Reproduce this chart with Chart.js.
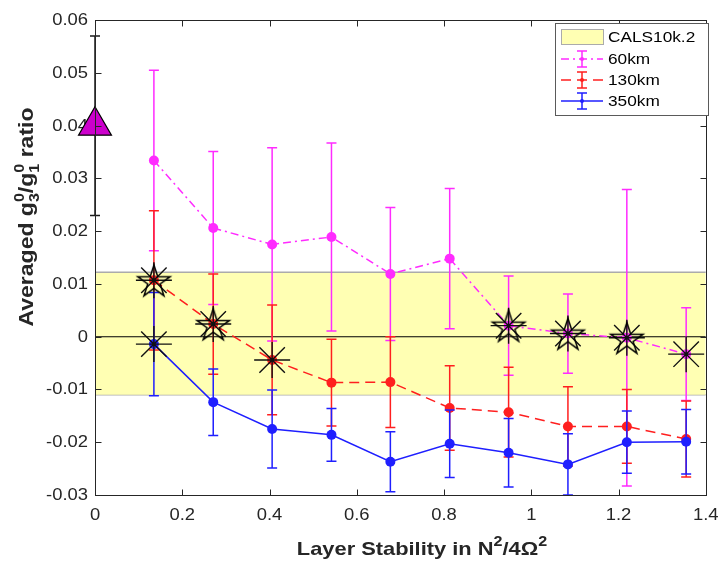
<!DOCTYPE html>
<html>
<head>
<meta charset="utf-8">
<script src="https://cdn.jsdelivr.net/npm/chart.js@4.4.1/dist/chart.umd.min.js"></script>
<style>
  html, body { margin: 0; padding: 0; background: #fff; }
  #wrap { width: 726px; height: 562px; }
</style>
</head>
<body>
<div id="wrap"><canvas id="c" width="726" height="562"></canvas></div>
<script>
// Layer stability (N^2/4Omega^2) of each model run
const stability = [0.135, 0.271, 0.406, 0.542, 0.677, 0.813, 0.948, 1.084, 1.219, 1.355];

// Averaged g3/g1 ratio and its spread, per layer thickness
const ratio60  = [0.0334, 0.0206, 0.0175, 0.0189, 0.0119, 0.0148, 0.0021, 0.0006, -0.0002, -0.0033];
const err60    = [0.0171, 0.0145, 0.0183, 0.0178, 0.0126, 0.0133, 0.0094, 0.0075, 0.0281, 0.0088];
const ratio130 = [0.0107, 0.0024, -0.0044, -0.0087, -0.0086, -0.0135, -0.0143, -0.0170, -0.0170, -0.0194];
const err130   = [0.0132, 0.0095, 0.0104, 0.0082, 0.0086, 0.0080, 0.0085, 0.0075, 0.0070, 0.0072];
const ratio350 = [-0.0014, -0.0124, -0.0175, -0.0186, -0.0237, -0.0203, -0.0220, -0.0242, -0.0200, -0.0199];
const err350   = [0.0098, 0.0063, 0.0074, 0.0050, 0.0057, 0.0064, 0.0065, 0.0058, 0.0059, 0.0061];

// CALS10k.2 reference value and its range
const calsStability = [0];
const calsRatio = [0.040];
const calsErr = [0.017];
const calsBand = [-0.0110, 0.0122];

// Runs flagged as consistent with CALS10k.2 (indices into the series)
const asterisk60 = [6, 7, 8, 9];
const asterisk130 = [0, 1, 2];
const asterisk350 = [0];
const pentagram60 = [6, 7, 8];
const pentagram130 = [0, 1];

// Axes
const xRange = [0, 1.4];
const yRange = [-0.03, 0.06];
const xTicks = [0, 0.2, 0.4, 0.6, 0.8, 1, 1.2, 1.4];
const xTickLabels = ['0', '0.2', '0.4', '0.6', '0.8', '1', '1.2', '1.4'];
const yTicks = [-0.03, -0.02, -0.01, 0, 0.01, 0.02, 0.03, 0.04, 0.05, 0.06];
const yTickLabels = ['-0.03', '-0.02', '-0.01', '0', '0.01', '0.02', '0.03', '0.04', '0.05', '0.06'];

const seriesNames = ['CALS10k.2', '60km', '130km', '350km'];

const MAGENTA = '#FF2BFF';
const RED = '#FF1F1F';
const BLUE = '#1F1FFF';
const BAND_FILL = 'rgb(255,255,179)';
const BAND_EDGE = '#ABABAB';
const INK = '#262626';
const FONT = '"Liberation Sans", Arial, Helvetica, sans-serif';
const STRETCH = 1.15;

const dash60 = [8, 4, 2, 4];
const dash130 = [10, 6];

function pts(xs, ys) { return xs.map((x, i) => ({ x: x, y: ys[i] })); }
function pick(idx, ys) { return idx.map(i => ({ x: stability[i], y: ys[i] })); }

function makePentagram(R) {
  const s = Math.ceil(R * 2 + 6);
  const cv = document.createElement('canvas');
  cv.width = s; cv.height = s;
  const g = cv.getContext('2d');
  g.strokeStyle = '#000';
  g.lineWidth = 1.5;
  g.beginPath();
  for (let k = 0; k < 10; k++) {
    const r = (k % 2) ? R * 0.382 : R;
    const a = -Math.PI / 2 + k * Math.PI / 5;
    const px = s / 2 + r * Math.cos(a), py = s / 2 + r * Math.sin(a) + R * 0.1;
    if (k === 0) g.moveTo(px, py); else g.lineTo(px, py);
  }
  g.closePath();
  g.stroke();
  return cv;
}
const pentagramImg = makePentagram(17);

// Text drawn slightly widened, like the original figure's fonts
function wideText(ctx, text, x, y, align, baseline) {
  ctx.save();
  ctx.translate(x, y);
  ctx.scale(STRETCH, 1);
  ctx.textAlign = align;
  ctx.textBaseline = baseline || 'alphabetic';
  ctx.fillText(text, 0, 0);
  ctx.restore();
}

// Rich text runs: {t} plain, {sub, sup} stacked indices
function richWidth(ctx, runs, fs) {
  let w = 0;
  for (const r of runs) {
    if (r.t !== undefined) { ctx.font = 'bold ' + fs + 'px ' + FONT; w += ctx.measureText(r.t).width; }
    else {
      ctx.font = 'bold ' + Math.round(fs * 0.72) + 'px ' + FONT;
      w += Math.max(r.sub ? ctx.measureText(r.sub).width : 0, r.sup ? ctx.measureText(r.sup).width : 0);
    }
  }
  return w;
}
function drawRich(ctx, runs, fs) {
  // draws at origin, left aligned on baseline
  let x = 0;
  ctx.textAlign = 'left';
  ctx.textBaseline = 'alphabetic';
  for (const r of runs) {
    if (r.t !== undefined) {
      ctx.font = 'bold ' + fs + 'px ' + FONT;
      ctx.fillText(r.t, x, 0);
      x += ctx.measureText(r.t).width;
    } else {
      ctx.font = 'bold ' + Math.round(fs * 0.72) + 'px ' + FONT;
      let w = 0;
      if (r.sup) { ctx.fillText(r.sup, x, -fs * 0.45); w = Math.max(w, ctx.measureText(r.sup).width); }
      if (r.sub) { ctx.fillText(r.sub, x, fs * 0.28); w = Math.max(w, ctx.measureText(r.sub).width); }
      x += w;
    }
  }
}

const xTitle = [{ t: 'Layer Stability in N' }, { sup: '2' }, { t: '/4\u03A9' }, { sup: '2' }];
const yTitle = [{ t: 'Averaged g' }, { sub: '3', sup: '0' }, { t: '/g' }, { sub: '1', sup: '0' }, { t: ' ratio' }];

const errorBars = {
  id: 'errorBars',
  beforeDatasetDraw(chart, args) {
    const ds = chart.data.datasets[args.index];
    if (!ds.errors) return;
    const xs = chart.scales.x, ys = chart.scales.y;
    const ctx = chart.ctx;
    ctx.save();
    ctx.strokeStyle = ds.errorColor;
    ctx.lineWidth = 1.5;
    ctx.setLineDash([]);
    ds.data.forEach((p, i) => {
      const e = ds.errors[i];
      const px = xs.getPixelForValue(p.x);
      const top = ys.getPixelForValue(p.y + e);
      const bot = ys.getPixelForValue(p.y - e);
      ctx.beginPath();
      ctx.moveTo(px, top); ctx.lineTo(px, bot);
      ctx.moveTo(px - 5, top); ctx.lineTo(px + 5, top);
      ctx.moveTo(px - 5, bot); ctx.lineTo(px + 5, bot);
      ctx.stroke();
    });
    ctx.restore();
  }
};

// Tick labels and axis titles, drawn under the data marks
const axisText = {
  id: 'axisText',
  beforeDatasetsDraw(chart) {
    const ctx = chart.ctx;
    const xs = chart.scales.x, ys = chart.scales.y;
    ctx.save();
    ctx.fillStyle = INK;
    ctx.font = '16px ' + FONT;
    xTicks.forEach((v, i) => wideText(ctx, xTickLabels[i], xs.getPixelForValue(v), 516, 'center', 'middle'));
    yTicks.forEach((v, i) => wideText(ctx, yTickLabels[i], 88, ys.getPixelForValue(v) + 0.5, 'right', 'middle'));

    let fs = 19;
    let w = richWidth(ctx, xTitle, fs) * STRETCH;
    ctx.save();
    ctx.translate(422 - w / 2, 555);
    ctx.scale(STRETCH, 1);
    drawRich(ctx, xTitle, fs);
    ctx.restore();

    fs = 20;
    w = richWidth(ctx, yTitle, fs) * STRETCH;
    ctx.save();
    ctx.translate(33, 217 + w / 2);
    ctx.rotate(-Math.PI / 2);
    ctx.scale(STRETCH, 1);
    drawRich(ctx, yTitle, fs);
    ctx.restore();
    ctx.restore();
  }
};

const frame = {
  id: 'frame',
  afterDraw(chart) {
    const ctx = chart.ctx;
    const a = chart.chartArea;
    const xs = chart.scales.x, ys = chart.scales.y;
    ctx.save();
    ctx.strokeStyle = INK;
    ctx.lineWidth = 1;
    ctx.setLineDash([]);
    const L = Math.round(a.left) + 0.5, R = Math.round(a.right) + 0.5;
    const T = Math.round(a.top) + 0.5, B = Math.round(a.bottom) + 0.5;
    ctx.strokeRect(L, T, R - L, B - T);
    ctx.beginPath();
    xTicks.forEach(v => {
      const px = Math.round(xs.getPixelForValue(v)) + 0.5;
      ctx.moveTo(px, B); ctx.lineTo(px, B - 6);
      ctx.moveTo(px, T); ctx.lineTo(px, T + 6);
    });
    yTicks.forEach(v => {
      const py = Math.round(ys.getPixelForValue(v)) + 0.5;
      ctx.moveTo(L, py); ctx.lineTo(L + 6, py);
      ctx.moveTo(R, py); ctx.lineTo(R - 6, py);
    });
    ctx.stroke();

    // legend
    const bx = 555.5, by = 23.5, bw = 153, bh = 92;
    ctx.fillStyle = '#fff';
    ctx.fillRect(bx, by, bw, bh);
    ctx.strokeStyle = '#5a5a5a';
    ctx.lineWidth = 1;
    ctx.strokeRect(bx, by, bw, bh);
    const rows = [37, 59, 80, 101];
    ctx.fillStyle = BAND_FILL;
    ctx.fillRect(561, 29.5, 42, 15);
    ctx.strokeStyle = BAND_EDGE;
    ctx.strokeRect(561.5, 29.5, 42, 15);
    const styles = [null, [MAGENTA, dash60], [RED, dash130], [BLUE, []]];
    for (let k = 1; k < 4; k++) {
      const y = rows[k];
      ctx.strokeStyle = styles[k][0];
      ctx.lineWidth = 1.5;
      ctx.setLineDash(styles[k][1]);
      ctx.beginPath(); ctx.moveTo(561, y); ctx.lineTo(603, y); ctx.stroke();
      ctx.setLineDash([]);
      ctx.beginPath();
      ctx.moveTo(582, y - 8); ctx.lineTo(582, y + 8);
      ctx.moveTo(577, y - 8); ctx.lineTo(587, y - 8);
      ctx.moveTo(577, y + 8); ctx.lineTo(587, y + 8);
      ctx.stroke();
      ctx.fillStyle = styles[k][0];
      ctx.beginPath(); ctx.arc(582, y, 2, 0, Math.PI * 2); ctx.fill();
    }
    ctx.fillStyle = '#000';
    ctx.font = '15px ' + FONT;
    seriesNames.forEach((n, k) => wideText(ctx, n, 608, rows[k] + 0.5, 'left', 'middle'));
    ctx.restore();
  }
};

new Chart(document.getElementById('c'), {
  type: 'scatter',
  data: {
    datasets: [
      { // band lower edge
        data: pts(xRange, [calsBand[0], calsBand[0]]),
        showLine: true, borderColor: BAND_EDGE, borderWidth: 1.5, pointRadius: 0, order: 8
      },
      { // band upper edge, filled down to the lower edge
        data: pts(xRange, [calsBand[1], calsBand[1]]),
        showLine: true, borderColor: BAND_EDGE, borderWidth: 1.5, pointRadius: 0,
        fill: '-1', backgroundColor: BAND_FILL, order: 7
      },
      { // zero line
        data: pts(xRange, [0, 0]),
        showLine: true, borderColor: '#000', borderWidth: 1.2, pointRadius: 0, order: 6
      },
      {
        label: '60km', data: pts(stability, ratio60), errors: err60, errorColor: MAGENTA,
        showLine: true, borderColor: MAGENTA, borderWidth: 1.5, borderDash: dash60,
        pointRadius: 5, pointBackgroundColor: MAGENTA, pointBorderWidth: 0, order: 5
      },
      {
        label: '130km', data: pts(stability, ratio130), errors: err130, errorColor: RED,
        showLine: true, borderColor: RED, borderWidth: 1.5, borderDash: dash130,
        pointRadius: 5, pointBackgroundColor: RED, pointBorderWidth: 0, order: 4
      },
      {
        label: '350km', data: pts(stability, ratio350), errors: err350, errorColor: BLUE,
        showLine: true, borderColor: BLUE, borderWidth: 1.5,
        pointRadius: 5, pointBackgroundColor: BLUE, pointBorderWidth: 0, order: 3
      },
      {
        label: 'CALS10k.2', data: pts(calsStability, calsRatio), errors: calsErr, errorColor: '#1a1a1a',
        showLine: false, pointStyle: 'triangle', pointRadius: 19,
        pointBackgroundColor: '#CC00CC', pointBorderColor: '#000', pointBorderWidth: 1.2,
        clip: false, order: 2
      },
      {
        data: pick(asterisk350, ratio350).concat(pick(asterisk130, ratio130), pick(asterisk60, ratio60)),
        showLine: false, pointStyle: 'star', pointRadius: 18,
        pointBorderColor: '#111', pointBorderWidth: 1.4, pointBackgroundColor: 'rgba(0,0,0,0)', order: 1
      },
      {
        data: pick(pentagram130, ratio130).concat(pick(pentagram60, ratio60)),
        showLine: false, pointStyle: pentagramImg, pointRadius: 17, order: 0
      }
    ]
  },
  options: {
    responsive: false,
    animation: false,
    events: [],
    layout: { padding: { left: 95, right: 14, top: 9, bottom: 67 } },
    elements: { line: { tension: 0 } },
    scales: {
      x: { type: 'linear', min: xRange[0], max: xRange[1], display: false },
      y: { type: 'linear', min: yRange[0], max: yRange[1], display: false }
    },
    plugins: {
      legend: { display: false },
      tooltip: { enabled: false },
      filler: { propagate: false }
    }
  },
  plugins: [errorBars, axisText, frame]
});
</script>
</body>
</html>
